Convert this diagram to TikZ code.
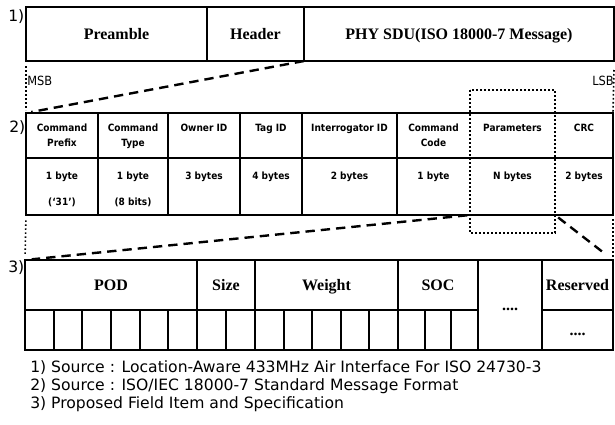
\documentclass[tikz,border=0pt]{standalone}
\usepackage{fontspec}
\setmainfont{Liberation Serif}
\newfontfamily\cellfont{DejaVu Sans Condensed}
\newfontfamily\notefont{DejaVu Sans}
\usetikzlibrary{positioning,calc}

\begin{document}
\begin{tikzpicture}[
            x=0.75pt, y=-0.75pt,
            frame/.style={draw, rectangle, inner sep=0pt, outer sep=0pt, line width=1.6pt, text height=8pt, text depth=0pt, font=\bfseries\fontsize{12}{14}\selectfont},
            msgcell/.style={rectangle, inner sep=0pt, outer sep=0pt},
            msgline/.style={line width=1.1pt},
            hdtext/.style={font=\cellfont\bfseries\fontsize{7.5}{11.25}\selectfont, align=center, inner sep=0pt},
            valtext/.style={font=\cellfont\bfseries\fontsize{7.5}{19.5}\selectfont, align=center, inner sep=0pt},
            bitcell/.style={draw, rectangle, inner sep=0pt, outer sep=0pt, line width=1.6pt, minimum height=30pt},
            note/.style={font=\notefont\fontsize{11.7}{13}\selectfont, inner sep=0pt, anchor=west},
            endmark/.style={font=\cellfont\fontsize{9.5}{11}\selectfont, inner sep=0pt},
            zoomline/.style={line width=1.8pt, dash pattern=on 7pt off 4.5pt},
            edgemark/.style={line width=1.2pt, dash pattern=on 1.2pt off 1.8pt}
        ]
            \useasboundingbox (0,0) rectangle (615,425);

            % 1) physical frame
            \node[frame, minimum width=135.75pt, minimum height=40.5pt] (pre) at (116.5,34) {Preamble};
            \node[frame, minimum width=72.75pt, minimum height=40.5pt, right=0pt of pre] (hdr) {Header};
            \node[frame, minimum width=232.5pt, minimum height=40.5pt, right=0pt of hdr] (sdu) {PHY SDU(ISO 18000-7 Message)};
            \node[note] (lab1) at (8,17) {1)};

            % 2) message format
            \foreach \nm/\cx/\w/\hd/\val in {
                cpre/62/54/{Command\\Prefix}/{1 byte\\(‘31’)},
                ctype/133/52.5/{Command\\Type}/{1 byte\\(8 bits)},
                cown/204/54/{Owner ID}/{3 bytes},
                ctag/271/46.5/{Tag ID}/{4 bytes},
                cint/349.5/71.25/{Interrogator ID}/{2 bytes},
                ccode/433.5/54.75/{Command\\Code}/{1 byte},
                par/512.5/63.75/{Parameters}/{N bytes},
                crc/584/43.5/{CRC}/{2 bytes}}{
                \node[msgcell, minimum width=\w pt, minimum height=33.75pt] (\nm) at (\cx,135.5) {};
                \node[msgcell, minimum width=\w pt, minimum height=42.75pt, below=0pt of \nm] (\nm v) {};
                \node[hdtext, below=8pt of \nm.north] {\hd};
                \node[valtext, below=10pt of \nm v.north] {\val};
            }
            \draw[msgline] (cpre.north west) rectangle (crcv.south east);
            \draw[msgline] (cpre.south west) -- (crc.south east);
            \foreach \c in {cpre,ctype,cown,ctag,cint}
                \draw[msgline] (\c.north east) -- (\c v.south east);
            \draw[edgemark] ($(par.north west)+(0,-23)$) rectangle ($(parv.south east)+(0,18)$);
            \node[note] (lab2) at (9,128) {2)};

            % 3) proposed fields
            \node[frame, minimum width=129pt, minimum height=37.5pt] (pod) at (111,285) {POD};
            \node[frame, minimum width=43.5pt, minimum height=37.5pt, right=0pt of pod] (size) {Size};
            \node[frame, minimum width=107.25pt, minimum height=37.5pt, right=0pt of size] (wgt) {Weight};
            \node[frame, minimum width=60pt, minimum height=37.5pt, right=0pt of wgt] (soc) {SOC};
            \node[frame, minimum width=48pt, minimum height=67.5pt, anchor=north west] (more) at (soc.north east) {....};
            \node[frame, minimum width=53.25pt, minimum height=37.5pt, anchor=north west] (resv) at (more.north east) {Reserved};
            \node[frame, minimum width=53.25pt, minimum height=30pt, below=0pt of resv] (resvb) {....};
            \foreach \xo/\n/\w [count=\g] in {25/6/28.667, 197/2/29, 255/5/28.6, 398/3/26.667}
                \foreach \k in {1,...,\n}
                    \node[bitcell, minimum width=\w*0.75pt] (bit\g\k) at ({\xo+(\k-0.5)*\w},330) {};
            \node[note] (lab3) at (8,268) {3)};

            % zoom lines
            \draw[edgemark] ($(pre.south west)+(0,5)$) -- ($(cpre.north west)+(0,-3)$);
            \draw[edgemark] ($(sdu.south east)+(0,9)$) -- (crc.north east);
            \draw[zoomline, shorten >=4pt] (hdr.south east) -- (cpre.north west);
            \node[endmark, anchor=west] (msb) at (27,81) {MSB};
            \node[endmark, anchor=east] (lsb) at (614,81) {LSB};
            \draw[edgemark, shorten <=4pt, shorten >=4pt] (cprev.south west) -- (pod.north west);
            \draw[edgemark, shorten <=3pt, shorten >=1pt] (crcv.south east) -- (resv.north east);
            \draw[zoomline, shorten <=2pt, shorten >=5pt] (parv.south west) -- (pod.north west);
            \draw[zoomline, shorten <=3pt, shorten >=8pt] (parv.south east) -- (resv.north east);

            % sources
            \node[note] (src1) at (30,368) {1) Source : Location-Aware 433MHz Air Interface For ISO 24730-3};
            \node[note] (src2) at (30,386) {2) Source : ISO/IEC 18000-7 Standard Message Format};
            \node[note] (src3) at (30,404) {3) Proposed Field Item and Specification};
        \end{tikzpicture}
\end{document}
